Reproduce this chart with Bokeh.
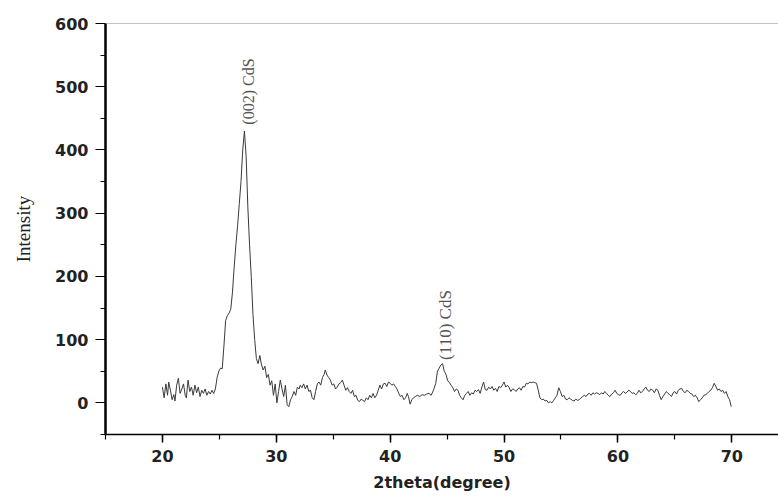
from bokeh.plotting import figure
from bokeh.models import Range1d, SingleIntervalTicker, Label, Span
from bokeh.embed import file_html
from bokeh.resources import INLINE

two_theta = [
    20.0, 20.15, 20.3, 20.45, 20.55, 20.7, 20.85, 21.0, 21.1, 21.25, 21.4, 21.55, 21.7, 21.85,
    22.0, 22.1, 22.25, 22.4, 22.55, 22.7, 22.85, 23.0, 23.15, 23.3, 23.45, 23.6, 23.75, 23.9,
    24.05, 24.2, 24.35, 24.5, 24.65, 24.8, 24.95, 25.1, 25.25, 25.4, 25.55, 25.7, 25.85, 26.0,
    26.15, 26.3, 26.45, 26.6, 26.75, 26.9, 27.05, 27.2, 27.35, 27.5, 27.65, 27.8, 27.95, 28.1,
    28.25, 28.4, 28.55, 28.7, 28.85, 29.0, 29.15, 29.3, 29.45, 29.6, 29.75, 29.9, 30.05, 30.2,
    30.35, 30.5, 30.65, 30.8, 30.95, 31.1, 31.25, 31.4, 31.55, 31.7, 31.85, 32.0, 32.1, 32.25,
    32.4, 32.55, 32.7, 32.85, 33.0, 33.15, 33.3, 33.45, 33.6, 33.75, 33.9, 34.05, 34.2, 34.3,
    34.45, 34.6, 34.75, 34.9, 35.05, 35.2, 35.35, 35.5, 35.65, 35.8, 35.95, 36.1, 36.25, 36.4,
    36.55, 36.7, 36.85, 37.0, 37.15, 37.3, 37.45, 37.6, 37.75, 37.9, 38.05, 38.2, 38.35, 38.5,
    38.65, 38.8, 38.95, 39.1, 39.25, 39.4, 39.55, 39.7, 39.85, 40.0, 40.15, 40.3, 40.45, 40.6,
    40.75, 40.9, 41.05, 41.2, 41.35, 41.5, 41.6, 41.75, 41.9, 42.05, 42.2, 42.4, 42.6, 42.8,
    43.0, 43.2, 43.4, 43.6, 43.8, 44.0, 44.15, 44.3, 44.45, 44.6, 44.75, 44.9, 45.05, 45.2,
    45.35, 45.5, 45.65, 45.8, 45.95, 46.1, 46.25, 46.4, 46.55, 46.7, 46.85, 47.0, 47.15, 47.3,
    47.45, 47.6, 47.75, 47.9, 48.05, 48.2, 48.35, 48.5, 48.65, 48.8, 48.95, 49.1, 49.25, 49.4,
    49.55, 49.7, 49.85, 50.0, 50.15, 50.3, 50.45, 50.6, 50.75, 50.9, 51.05, 51.2, 51.35, 51.5,
    51.65, 51.8, 51.95, 52.1, 52.25, 52.4, 52.55, 52.7, 52.85, 53.0, 53.15, 53.3, 53.45, 53.6,
    53.75, 53.9, 54.05, 54.2, 54.35, 54.5, 54.65, 54.8, 54.95, 55.1, 55.25, 55.4, 55.55, 55.7,
    55.85, 56.0, 56.15, 56.3, 56.45, 56.6, 56.75, 56.9, 57.05, 57.2, 57.35, 57.5, 57.65, 57.8,
    57.95, 58.1, 58.25, 58.4, 58.55, 58.7, 58.85, 59.0, 59.15, 59.3, 59.45, 59.6, 59.75, 59.9,
    60.05, 60.2, 60.35, 60.5, 60.65, 60.8, 60.95, 61.1, 61.25, 61.4, 61.55, 61.7, 61.85, 62.0,
    62.15, 62.3, 62.45, 62.6, 62.75, 62.9, 63.05, 63.2, 63.35, 63.5, 63.65, 63.8, 63.95, 64.1,
    64.25, 64.4, 64.55, 64.7, 64.85, 65.0, 65.15, 65.3, 65.45, 65.6, 65.75, 65.9, 66.05, 66.2,
    66.35, 66.5, 66.65, 66.8, 66.95, 67.1, 67.25, 67.4, 67.55, 67.7, 67.85, 68.0, 68.15, 68.3,
    68.45, 68.6, 68.75, 68.9, 69.05, 69.2, 69.35, 69.5, 69.65, 69.8, 69.95,
]

intensity = [
    25, 8, 30, 12, 33, 20, 5, 13, 3, 28, 39, 15, 22, 30,
    12, 8, 36, 18, 25, 12, 28, 16, 25, 10, 20, 15, 22, 12,
    18, 14, 20, 15, 22, 40, 50, 55, 54, 90, 130, 138, 142, 148,
    175, 215, 250, 280, 315, 350, 400, 430, 390, 310, 250, 200, 140, 100,
    70, 62, 75, 60, 52, 58, 40, 45, 28, 35, 12, 30, 0, 18,
    36, 22, 10, 28, -3, -6, 5, 10, 18, 12, 25, 22, 28, 24,
    30, 22, 28, 18, 20, 8, 5, 18, 30, 33, 28, 40, 45, 52,
    44, 40, 36, 28, 30, 22, 25, 30, 32, 36, 28, 20, 24, 18,
    15, 20, 10, 12, 4, 2, 6, 4, 2, 8, 5, 12, 8, 15,
    8, 12, 20, 28, 22, 30, 31, 26, 33, 31, 28, 30, 26, 22,
    15, 10, 12, 5, 8, 15, 10, -2, 5, 8, 10, 12, 10, 13,
    12, 14, 15, 12, 20, 31, 50, 55, 60, 62, 50, 45, 35, 32,
    28, 24, 18, 22, 20, 12, 8, 5, 12, 15, 18, 12, 16, 14,
    20, 18, 21, 15, 25, 33, 21, 20, 25, 22, 26, 20, 23, 18,
    26, 24, 28, 33, 25, 28, 24, 18, 22, 21, 18, 22, 24, 20,
    26, 25, 31, 30, 33, 32, 33, 32, 31, 20, 8, 5, 6, 3,
    4, 0, 2, 0, 4, 8, 12, 24, 18, 10, 12, 6, 5, 8,
    6, 4, 3, 6, 4, 5, 8, 10, 12, 10, 14, 15, 12, 16,
    14, 16, 15, 13, 16, 14, 18, 15, 12, 10, 14, 16, 20, 15,
    13, 12, 16, 18, 15, 17, 20, 18, 15, 16, 13, 15, 20, 16,
    18, 22, 25, 20, 18, 22, 20, 16, 22, 20, 12, 5, 10, 14,
    18, 15, 13, 10, 16, 18, 14, 20, 22, 23, 18, 16, 20, 18,
    15, 14, 10, 12, 8, 2, 5, 8, 12, 13, 15, 18, 20, 24,
    31, 26, 20, 22, 18, 20, 15, 18, 10, 5, -6,
]

peak_labels = ["(002) CdS", "(110) CdS"]
x_label = "2theta(degree)"
y_label = "Intensity"

p = figure(
    width=778, height=496,
    x_range=Range1d(15, 74.1), y_range=Range1d(-50, 600),
    output_backend="svg", toolbar_location=None,
    min_border_left=105, min_border_top=23, min_border_bottom=62, min_border_right=0,
)
p.outline_line_color = None
p.grid.visible = False
p.background_fill_color = "white"

p.line(two_theta, intensity, line_color="#3a3a3a", line_width=1)

p.add_layout(Span(location=600, dimension="width", line_color="#8a8a8a", line_width=1))

# axes
xa = p.xaxis[0]
xa.ticker = SingleIntervalTicker(interval=10, num_minor_ticks=2)
xa.axis_line_color = "black"
xa.axis_line_width = 1.6
xa.major_tick_line_color = "black"
xa.major_tick_line_width = 1.5
xa.major_tick_out = 8
xa.major_tick_in = 0
xa.minor_tick_line_color = "black"
xa.minor_tick_line_width = 1.2
xa.minor_tick_out = 5
xa.minor_tick_in = 0
xa.major_label_standoff = 7
xa.major_label_text_font = "DejaVu Sans"
xa.major_label_text_font_style = "bold"
xa.major_label_text_font_size = "16px"
xa.major_label_text_color = "#222222"
xa.axis_label = x_label
xa.axis_label_text_font = "DejaVu Sans"
xa.axis_label_text_font_style = "bold"
xa.axis_label_text_font_size = "16px"
xa.axis_label_text_color = "#222222"
xa.axis_label_standoff = 8

ya = p.yaxis[0]
ya.ticker = SingleIntervalTicker(interval=100, num_minor_ticks=2)
ya.axis_line_color = "black"
ya.axis_line_width = 2.5
ya.major_tick_line_color = "black"
ya.major_tick_line_width = 1.2
ya.major_tick_out = 10
ya.major_tick_in = 0
ya.minor_tick_line_color = "black"
ya.minor_tick_line_width = 1
ya.minor_tick_out = 5
ya.minor_tick_in = 0
ya.major_label_standoff = 7
ya.major_label_text_font = "DejaVu Sans"
ya.major_label_text_font_style = "bold"
ya.major_label_text_font_size = "16px"
ya.major_label_text_color = "#222222"
ya.axis_label = y_label
ya.axis_label_text_font = "Liberation Serif"
ya.axis_label_text_font_style = "normal"
ya.axis_label_text_font_size = "19px"
ya.axis_label_text_color = "#222222"
ya.axis_label_standoff = 18

p.add_layout(Label(x=27.6, y=440, text=peak_labels[0], angle=90, angle_units="deg",
                   text_align="left", text_baseline="middle",
                   text_font="Liberation Serif", text_font_size="16px", text_color="#555555"))
p.add_layout(Label(x=44.9, y=68, text=peak_labels[1], angle=90, angle_units="deg",
                   text_align="left", text_baseline="middle",
                   text_font="Liberation Serif", text_font_size="17px", text_color="#555555"))

open("out.html", "w").write(file_html(p, INLINE))
